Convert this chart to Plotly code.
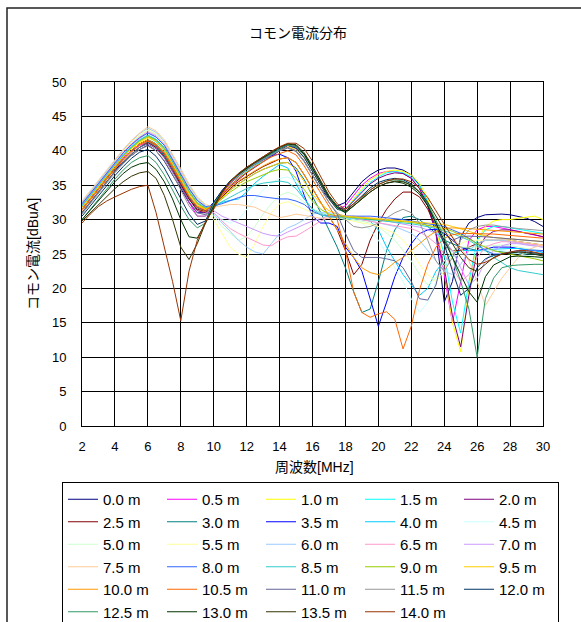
import plotly.graph_objects as go

FREQ = [2.0, 2.5, 3.0, 3.5, 4.0, 4.5, 5.0, 5.5,
        6.0, 6.5, 7.0, 7.5, 8.0, 8.5, 9.0, 9.5,
        10.0, 10.5, 11.0, 11.5, 12.0, 12.5, 13.0, 13.5,
        14.0, 14.5, 15.0, 15.5, 16.0, 16.5, 17.0, 17.5,
        18.0, 18.5, 19.0, 19.5, 20.0, 20.5, 21.0, 21.5,
        22.0, 22.5, 23.0, 23.5, 24.0, 24.5, 25.0, 25.5,
        26.0, 26.5, 27.0, 27.5, 28.0, 28.5, 29.0, 29.5, 30.0]

S_00 = [32.5, 33.8, 35.0, 36.2, 37.3, 38.3, 39.3, 40.2,
        40.8, 40.0, 38.5, 36.5, 34.5, 32.5, 31.0, 31.0,
        32.3, 34.0, 35.5, 36.5, 37.5, 38.3, 39.0, 39.5,
        40.0, 40.5, 40.0, 38.5, 36.5, 34.5, 33.0, 32.0,
        32.5, 34.0, 35.5, 36.5, 37.2, 37.5, 37.5, 37.2,
        36.5, 35.0, 32.5, 28.0, 18.0, 21.0, 27.5, 29.5,
        30.3, 30.7, 30.8, 30.8, 30.7, 30.5, 30.2, 29.7, 29.0]
S_05 = [32.0, 33.5, 35.0, 36.5, 37.8, 39.0, 40.0, 40.8,
        41.2, 40.5, 39.0, 37.0, 35.0, 32.5, 30.5, 30.5,
        32.0, 33.8, 35.3, 36.3, 37.3, 38.0, 38.8, 39.5,
        40.2, 40.7, 40.3, 39.0, 37.0, 35.0, 33.0, 31.5,
        32.0, 33.5, 35.0, 36.0, 36.7, 37.0, 37.0, 36.7,
        36.0, 34.5, 32.0, 28.0, 22.0, 15.0, 21.0, 27.0,
        28.5, 29.0, 29.0, 28.8, 28.5, 28.3, 28.0, 27.8, 27.5]
S_10 = [32.3, 33.8, 35.2, 36.7, 38.0, 39.2, 40.3, 41.2,
        41.8, 41.0, 39.5, 37.5, 35.3, 33.0, 31.5, 31.0,
        32.0, 33.6, 35.0, 36.0, 37.0, 37.8, 38.6, 39.4,
        40.0, 40.6, 40.2, 39.0, 37.0, 35.0, 33.0, 31.5,
        31.5, 33.0, 34.5, 35.8, 36.5, 37.0, 37.2, 37.0,
        36.5, 35.3, 33.0, 29.0, 23.0, 15.0, 10.8, 20.0,
        27.0, 29.0, 29.8, 30.0, 30.0, 30.2, 30.4, 30.5, 30.0]
S_15 = [32.0, 33.5, 35.0, 36.5, 38.0, 39.3, 40.5, 41.5,
        42.0, 41.3, 40.0, 38.0, 35.8, 33.5, 31.8, 31.3,
        32.0, 33.5, 35.0, 36.0, 37.0, 37.8, 38.6, 39.4,
        40.2, 41.0, 40.8, 39.5, 37.5, 35.3, 33.3, 31.8,
        31.5, 32.8, 34.2, 35.4, 36.2, 36.8, 37.0, 36.8,
        36.2, 35.0, 32.5, 29.0, 25.0, 18.0, 13.5, 21.0,
        27.0, 28.5, 29.0, 29.0, 28.8, 28.6, 28.4, 28.2, 28.0]
S_20 = [31.5, 33.0, 34.5, 36.0, 37.5, 38.8, 40.0, 41.0,
        41.5, 40.8, 39.5, 37.5, 35.3, 33.0, 31.3, 31.0,
        32.0, 33.5, 34.8, 35.8, 36.8, 37.6, 38.4, 39.2,
        40.0, 40.8, 40.6, 39.5, 37.5, 35.3, 33.2, 31.7,
        31.5, 32.7, 34.0, 35.2, 36.0, 36.5, 36.8, 36.7,
        36.0, 34.5, 32.0, 28.0, 23.0, 16.0, 11.5, 19.0,
        25.5, 27.5, 28.3, 28.5, 28.5, 28.3, 28.0, 27.8, 27.5]
S_25 = [31.0, 32.5, 34.0, 35.5, 37.0, 38.3, 39.5, 40.5,
        41.2, 40.5, 39.2, 37.2, 35.0, 33.0, 31.5, 31.2,
        32.0, 33.3, 34.5, 35.5, 36.3, 37.0, 37.7, 38.3,
        38.8, 39.0, 38.3, 36.5, 34.5, 32.5, 30.5, 28.5,
        25.5, 22.0, 23.5, 27.0, 29.5, 31.5, 33.0, 34.0,
        34.0, 33.3, 31.5, 29.0, 26.5, 25.5, 25.5, 26.0,
        26.5, 27.0, 27.0, 27.0, 27.0, 26.8, 26.6, 26.5, 26.3]
S_30 = [31.0, 32.5, 34.0, 35.5, 37.0, 38.3, 39.5, 40.5,
        41.3, 40.7, 39.3, 37.5, 35.3, 33.2, 31.7, 31.3,
        32.0, 33.2, 34.3, 35.2, 36.0, 36.7, 37.3, 37.8,
        38.2, 38.3, 37.5, 35.8, 33.5, 31.0, 28.5, 26.0,
        23.0, 19.5, 16.5, 17.0, 21.0, 25.5, 28.5, 30.3,
        30.5, 30.0, 29.0, 28.0, 27.0, 26.5, 26.0, 25.8,
        25.5, 25.5, 25.5, 25.3, 25.2, 25.0, 25.0, 25.0, 24.8]
S_35 = [31.5, 33.0, 34.5, 36.0, 37.5, 38.8, 40.0, 41.0,
        41.6, 41.0, 39.7, 37.8, 35.5, 33.3, 31.8, 31.3,
        32.5, 34.2, 35.6, 36.6, 37.5, 38.2, 38.8, 39.3,
        39.5, 39.0, 37.0, 33.5, 30.5, 29.5, 29.5, 29.0,
        26.0, 24.5, 22.5, 18.5, 14.5, 18.0, 21.7, 24.5,
        26.5, 28.0, 28.5, 28.6, 28.0, 27.0, 26.0, 25.5,
        25.5, 25.7, 26.0, 26.0, 26.0, 25.8, 25.7, 25.5, 25.3]
S_40 = [32.0, 33.5, 35.0, 36.5, 38.0, 39.3, 40.5, 41.5,
        42.2, 41.6, 40.3, 38.4, 36.3, 34.0, 32.3, 31.6,
        31.8, 32.5, 32.8, 33.0, 34.0, 35.3, 36.3, 37.2,
        38.0, 37.5, 35.3, 33.0, 31.5, 31.0, 30.5, 30.3,
        30.0, 30.0, 30.0, 29.8, 28.5, 26.0, 24.0, 22.0,
        20.5, 19.0, 20.0, 22.5, 24.0, 25.0, 25.5, 25.5,
        25.5, 25.5, 25.7, 25.8, 25.8, 25.8, 25.7, 25.5, 25.2]
S_45 = [32.5, 34.0, 35.5, 37.0, 38.5, 40.0, 41.2, 42.2,
        43.0, 42.3, 41.0, 39.0, 36.8, 34.5, 32.7, 31.8,
        31.0, 30.0, 29.5, 30.0, 31.5, 33.0, 34.3, 35.3,
        36.0, 36.2, 35.5, 34.0, 32.5, 31.5, 31.0, 30.5,
        30.3, 30.0, 29.5, 28.5, 27.0, 25.0, 23.0, 21.0,
        18.5, 16.5, 18.0, 21.0, 23.5, 24.5, 25.0, 25.0,
        25.3, 25.5, 25.5, 25.5, 25.3, 25.0, 24.8, 24.6, 24.3]
S_50 = [32.5, 34.0, 35.5, 37.0, 38.5, 40.0, 41.2, 42.2,
        43.0, 42.4, 41.2, 39.3, 37.0, 34.8, 33.0, 32.0,
        30.5, 29.0, 28.0, 27.0, 27.5, 29.0, 30.8, 32.3,
        33.5, 34.0, 33.5, 32.5, 31.5, 31.0, 30.8, 30.5,
        30.3, 30.0, 29.8, 29.5, 29.0, 28.0, 27.0, 25.5,
        24.0, 22.0, 20.5, 21.5, 24.0, 25.5, 26.0, 26.0,
        26.0, 26.2, 26.3, 26.3, 26.2, 26.0, 25.8, 25.6, 25.4]
S_55 = [32.5, 34.0, 35.5, 37.0, 38.5, 40.0, 41.2, 42.3,
        43.2, 42.6, 41.3, 39.3, 37.0, 34.8, 33.0, 32.0,
        30.0, 28.0, 26.0, 25.0, 24.5, 26.5, 29.0, 31.0,
        32.3, 32.6, 32.0, 31.5, 31.0, 30.7, 30.5, 30.3,
        30.0, 29.8, 29.5, 29.3, 29.0, 28.5, 28.0, 27.0,
        25.5, 23.5, 22.0, 21.0, 22.5, 25.0, 26.5, 27.0,
        27.0, 27.0, 27.0, 27.0, 27.0, 26.8, 26.6, 26.5, 26.3]
S_60 = [32.5, 34.0, 35.5, 37.1, 38.6, 40.1, 41.4, 42.5,
        43.3, 42.7, 41.4, 39.4, 37.2, 35.0, 33.2, 32.0,
        30.8, 29.5, 28.3, 27.0, 26.0, 25.3, 25.0, 26.5,
        28.0, 28.8, 29.3, 30.0, 30.8, 31.0, 31.0, 30.8,
        30.5, 30.3, 30.0, 29.8, 29.5, 29.3, 29.0, 28.5,
        28.0, 27.0, 25.5, 24.0, 22.5, 22.0, 23.5, 25.5,
        26.5, 27.0, 27.0, 27.0, 26.8, 26.6, 26.5, 26.3, 26.0]
S_65 = [32.3, 33.8, 35.3, 36.8, 38.3, 39.8, 41.0, 42.0,
        42.8, 42.2, 41.0, 39.0, 36.8, 34.6, 32.8, 31.8,
        31.0, 29.8, 28.7, 28.0, 27.4, 26.8, 26.3, 26.2,
        27.0, 27.5, 27.6, 28.3, 29.0, 29.8, 30.3, 30.5,
        30.4, 30.2, 30.0, 29.8, 29.6, 29.4, 29.2, 29.0,
        28.7, 28.2, 27.5, 26.5, 25.0, 23.0, 21.0, 22.0,
        24.5, 26.0, 26.5, 26.8, 26.8, 26.7, 26.5, 26.3, 26.2]
S_70 = [32.2, 33.7, 35.2, 36.7, 38.2, 39.6, 40.8, 41.8,
        42.6, 42.0, 40.8, 38.8, 36.6, 34.5, 32.8, 31.8,
        31.3, 30.5, 30.0, 29.5, 29.0, 28.5, 28.0, 27.7,
        27.6, 28.2, 28.8, 29.3, 29.8, 30.2, 30.5, 30.6,
        30.6, 30.5, 30.3, 30.2, 30.0, 29.8, 29.6, 29.4,
        29.2, 28.9, 28.5, 28.0, 27.0, 25.5, 23.0, 20.5,
        21.5, 24.0, 25.5, 26.2, 26.5, 26.5, 26.3, 26.2, 26.0]
S_75 = [32.7, 34.2, 35.7, 37.2, 38.7, 40.2, 41.5, 42.6,
        43.5, 42.9, 41.6, 39.6, 37.4, 35.2, 33.3, 32.2,
        31.8, 32.0, 32.2, 32.2, 32.0, 31.8, 31.2, 30.7,
        30.3, 30.5, 30.8, 30.6, 30.4, 30.2, 30.2, 30.3,
        30.5, 30.5, 30.4, 30.3, 30.2, 30.1, 30.0, 29.9,
        29.7, 29.5, 29.2, 28.8, 28.2, 27.5, 26.0, 24.0,
        21.0, 17.5, 19.5, 21.5, 23.0, 24.5, 25.5, 26.0, 26.3]
S_80 = [32.3, 33.8, 35.3, 36.8, 38.3, 39.7, 40.9, 41.9,
        42.6, 42.0, 40.8, 38.8, 36.6, 34.5, 32.8, 31.9,
        32.0, 32.3, 32.8, 33.2, 33.5, 33.5, 33.3, 33.1,
        33.0, 33.0, 32.7, 32.2, 31.2, 30.7, 30.5, 30.5,
        30.5, 30.6, 30.6, 30.5, 30.4, 30.3, 30.2, 30.0,
        29.8, 29.6, 29.4, 29.2, 29.0, 28.5, 28.0, 27.3,
        26.5, 25.5, 25.0, 25.0, 25.3, 25.5, 25.6, 25.6, 25.5]
S_85 = [32.0, 33.5, 35.0, 36.5, 38.0, 39.4, 40.6, 41.6,
        42.3, 41.7, 40.5, 38.5, 36.3, 34.2, 32.5, 31.7,
        32.0, 32.6, 33.3, 33.9, 34.5, 35.0, 35.3, 35.5,
        35.6, 35.4, 34.5, 33.0, 31.5, 30.7, 30.4, 30.3,
        30.3, 30.2, 30.1, 30.0, 29.9, 29.8, 29.7, 29.6,
        29.4, 29.2, 29.0, 28.7, 28.4, 28.0, 27.5, 27.0,
        26.3, 25.5, 24.5, 23.7, 23.0, 22.6, 22.4, 22.2, 22.0]
S_90 = [31.8, 33.3, 34.8, 36.3, 37.8, 39.2, 40.4, 41.4,
        42.1, 41.5, 40.3, 38.3, 36.1, 34.0, 32.4, 31.6,
        32.0, 33.0, 34.0, 34.8, 35.5, 36.0, 36.5, 37.0,
        37.3, 37.2, 36.0, 34.3, 32.7, 31.5, 30.8, 30.5,
        30.4, 30.4, 30.3, 30.2, 30.1, 30.0, 29.9, 29.8,
        29.6, 29.4, 29.2, 29.0, 28.7, 28.3, 27.8, 27.2,
        26.5, 26.0, 25.5, 25.2, 25.0, 24.8, 24.6, 24.3, 24.0]
S_95 = [31.8, 33.3, 34.8, 36.3, 37.8, 39.1, 40.3, 41.3,
        42.0, 41.4, 40.1, 38.1, 35.9, 33.8, 32.2, 31.5,
        32.0, 33.2, 34.3, 35.2, 36.0, 36.7, 37.3, 37.8,
        38.2, 38.3, 37.3, 35.5, 33.7, 32.3, 31.3, 30.8,
        30.5, 30.4, 30.3, 30.2, 30.1, 30.0, 29.9, 29.9,
        29.8, 29.7, 29.6, 29.5, 29.3, 29.0, 28.7, 28.3,
        27.9, 27.6, 27.4, 27.3, 27.2, 27.1, 27.0, 26.9, 26.8]
S_100 = [31.5, 33.0, 34.5, 36.0, 37.5, 38.8, 40.0, 41.0,
         41.6, 41.0, 39.8, 37.8, 35.6, 33.5, 32.0, 31.4,
         32.2, 33.5, 34.7, 35.6, 36.4, 37.1, 37.8, 38.4,
         38.8, 39.0, 38.3, 36.5, 34.5, 32.5, 30.5, 28.5,
         26.5, 24.5, 23.0, 22.3, 22.0, 22.8, 23.8, 24.5,
         25.5, 26.5, 27.5, 28.3, 28.7, 28.8, 28.8, 28.7,
         28.6, 28.5, 28.5, 28.4, 28.3, 28.2, 28.1, 28.0, 27.9]
S_105 = [31.3, 32.8, 34.3, 35.8, 37.3, 38.6, 39.8, 40.8,
         41.4, 40.8, 39.6, 37.6, 35.4, 33.3, 31.8, 31.2,
         32.3, 33.7, 35.0, 36.0, 36.9, 37.7, 38.4, 39.1,
         39.6, 40.0, 39.4, 37.8, 35.8, 33.8, 31.8, 30.0,
         25.5, 19.5, 16.5, 15.8, 16.3, 16.6, 15.5, 11.2,
         14.5, 19.8, 23.5, 26.0, 27.3, 27.8, 28.0, 28.0,
         28.0, 28.0, 27.9, 27.8, 27.7, 27.6, 27.5, 27.4, 27.3]
S_110 = [31.0, 32.5, 34.0, 35.5, 37.0, 38.3, 39.5, 40.5,
         41.0, 40.3, 39.0, 37.0, 34.8, 32.6, 31.0, 30.7,
         32.4, 34.0, 35.3, 36.3, 37.2, 38.0, 38.7, 39.4,
         40.0, 40.4, 39.9, 38.4, 36.4, 34.4, 32.5, 30.8,
         28.0, 25.5, 24.5, 24.5, 24.5, 24.3, 24.0, 23.0,
         21.0, 18.5, 18.3, 20.5, 25.5, 27.0, 27.5, 27.6,
         27.6, 27.5, 27.4, 27.3, 27.2, 27.1, 27.0, 26.9, 26.8]
S_115 = [30.8, 32.3, 33.8, 35.3, 36.8, 38.1, 39.3, 40.2,
         40.7, 40.0, 38.6, 36.6, 34.3, 32.0, 30.5, 30.5,
         32.4, 34.0, 35.4, 36.4, 37.3, 38.1, 38.8, 39.5,
         40.1, 40.5, 40.0, 38.5, 36.5, 34.5, 32.5, 31.0,
         30.0, 29.0, 28.8, 29.0, 29.5, 30.3, 31.0, 31.5,
         31.0, 29.5, 27.0, 24.0, 22.5, 24.5, 27.0, 28.5,
         29.0, 29.2, 29.2, 29.0, 28.8, 28.7, 28.6, 28.5, 28.4]
S_120 = [30.5, 32.0, 33.5, 35.0, 36.4, 37.7, 38.9, 39.8,
         40.2, 39.2, 37.5, 35.3, 33.0, 30.8, 29.3, 29.8,
         32.5, 34.2, 35.6, 36.6, 37.5, 38.3, 39.0, 39.7,
         40.3, 40.8, 40.4, 39.0, 37.0, 35.0, 33.0, 31.5,
         31.2, 32.3, 33.5, 34.6, 35.4, 35.8, 36.0, 35.8,
         35.2, 34.0, 32.0, 29.5, 26.5, 22.5, 19.0, 20.0,
         23.0, 24.3, 24.8, 25.0, 25.2, 25.3, 25.3, 25.2, 25.0]
S_125 = [30.0, 31.5, 33.0, 34.5, 35.9, 37.2, 38.3, 39.0,
         39.3, 38.3, 36.5, 34.3, 32.0, 30.0, 28.8, 29.5,
         32.3, 34.0, 35.5, 36.5, 37.4, 38.2, 38.9, 39.6,
         40.2, 40.8, 40.6, 39.3, 37.3, 35.3, 33.3, 31.6,
         31.0, 32.0, 33.2, 34.3, 35.1, 35.6, 35.8, 35.6,
         35.0, 34.0, 32.3, 30.0, 27.5, 24.5, 21.0, 17.0,
         10.0, 18.5, 21.5, 23.0, 23.3, 23.4, 23.5, 23.5, 23.5]
S_130 = [30.0, 31.4, 32.8, 34.2, 35.5, 36.7, 37.6, 38.1,
         38.3, 37.3, 35.5, 33.0, 30.0, 27.5, 27.3, 29.5,
         32.0, 34.0, 35.5, 36.6, 37.5, 38.3, 39.0, 39.8,
         40.5, 41.0, 40.8, 39.5, 37.5, 35.3, 33.3, 31.8,
         31.0, 32.0, 33.0, 34.0, 34.8, 35.3, 35.5, 35.3,
         34.7, 33.7, 32.0, 29.5, 27.0, 24.5, 22.0, 19.5,
         18.0, 21.7, 23.4, 24.0, 24.6, 24.7, 24.7, 24.6, 24.5]
S_135 = [29.8, 31.0, 32.2, 33.4, 34.5, 35.5, 36.3, 36.8,
         37.0, 36.0, 33.5, 30.0, 26.0, 24.2, 26.5, 29.5,
         31.8, 34.0, 35.6, 36.7, 37.6, 38.4, 39.1, 39.9,
         40.5, 41.0, 40.9, 39.7, 37.8, 35.6, 33.5, 32.0,
         31.2, 32.0, 33.0, 34.0, 34.8, 35.3, 35.6, 35.5,
         35.0, 34.0, 32.5, 30.5, 28.5, 26.5, 24.5, 23.0,
         22.5, 23.5, 24.5, 25.0, 25.2, 25.3, 25.2, 25.0, 24.7]
S_140 = [29.5, 30.8, 31.9, 32.7, 33.3, 33.9, 34.4, 34.8,
         35.0, 31.0, 26.0, 21.0, 15.3, 22.5, 27.0, 29.7,
         31.5, 33.8, 35.5, 36.7, 37.6, 38.4, 39.1, 39.9,
         40.6, 41.1, 41.1, 40.3, 38.5, 36.3, 34.0, 32.3,
         31.5, 32.3, 33.3, 34.3, 35.1, 35.6, 35.9, 35.9,
         35.5, 34.6, 33.2, 31.3, 29.3, 27.3, 25.5, 24.2,
         23.5, 23.8, 24.4, 25.0, 25.3, 25.5, 25.5, 25.3, 25.0]

NAMES = ["0.0 m", "0.5 m", "1.0 m", "1.5 m", "2.0 m", "2.5 m", "3.0 m", "3.5 m",
         "4.0 m", "4.5 m", "5.0 m", "5.5 m", "6.0 m", "6.5 m", "7.0 m", "7.5 m",
         "8.0 m", "8.5 m", "9.0 m", "9.5 m", "10.0 m", "10.5 m", "11.0 m", "11.5 m",
         "12.0 m", "12.5 m", "13.0 m", "13.5 m", "14.0 m"]
VALUES = [S_00, S_05, S_10, S_15, S_20, S_25, S_30, S_35, S_40, S_45, S_50, S_55,
          S_60, S_65, S_70, S_75, S_80, S_85, S_90, S_95, S_100, S_105, S_110,
          S_115, S_120, S_125, S_130, S_135, S_140]
COLORS = ["#000080", "#FF00FF", "#FFFF00", "#00FFFF", "#800080", "#800000",
          "#008080", "#0000FF", "#00CCFF", "#CCFFFF", "#CCFFCC", "#FFFF99",
          "#99CCFF", "#FF99CC", "#CC99FF", "#FFCC99", "#3366FF", "#33CCCC",
          "#99CC00", "#FFCC00", "#FF9900", "#FF6600", "#666699", "#969696",
          "#003366", "#339966", "#003300", "#333300", "#993300"]

TITLE = "コモン電流分布"
XTITLE = "周波数[MHz]"
YTITLE = "コモン電流[dBuA]"

W, H = 581, 622
L, R, T, B = 82, 38, 82, 196
PW = W - L - R
PH = H - T - B


def px_x(px):
    return (px - L) / PW


def px_y(py):
    return (H - B - py) / PH


FONT = "Liberation Sans, Arial, Noto Sans CJK JP, sans-serif"

fig = go.Figure()
for name, vals, col in zip(NAMES, VALUES, COLORS):
    assert len(vals) == len(FREQ), name
    fig.add_trace(go.Scatter(x=FREQ, y=vals, name=name, mode="lines",
                             line=dict(color=col, width=1)))

axis_common = dict(showgrid=True, gridcolor="black", gridwidth=1,
                   showline=True, linecolor="black", linewidth=1, mirror=True,
                   zeroline=False, ticks="", tickfont=dict(size=13, color="black"))

fig.update_layout(
    width=W, height=H,
    margin=dict(l=L, r=R, t=T, b=B, autoexpand=False),
    paper_bgcolor="white", plot_bgcolor="white",
    font=dict(family=FONT, color="black"),
    showlegend=True,
    xaxis=dict(range=[2, 30], tick0=2, dtick=2, ticklabelstandoff=8, **axis_common),
    yaxis=dict(range=[0, 50], tick0=0, dtick=5, ticklabelstandoff=12, **axis_common),
    legend=dict(orientation="h", x=px_x(62), y=px_y(482), xanchor="left", yanchor="top",
                entrywidth=54, entrywidthmode="pixels", itemwidth=30,
                font=dict(size=15, color="black", family=FONT),
                bgcolor="white", bordercolor="black", borderwidth=1,
                tracegroupgap=0),
    annotations=[
        dict(text=TITLE, xref="paper", yref="paper", x=px_x(298), y=px_y(33),
             showarrow=False, font=dict(size=14), xanchor="center", yanchor="middle"),
        dict(text=XTITLE, xref="paper", yref="paper", x=px_x(314), y=px_y(467),
             showarrow=False, font=dict(size=14), xanchor="center", yanchor="middle"),
        dict(text=YTITLE, xref="paper", yref="paper", x=px_x(33), y=px_y(254),
             showarrow=False, font=dict(size=14), textangle=-90,
             xanchor="center", yanchor="middle"),
    ],
    shapes=[
        dict(type="rect", xref="paper", yref="paper", x0=px_x(7), x1=px_x(600),
             y0=px_y(660), y1=px_y(8), line=dict(color="#222222", width=1.5),
             layer="below"),
    ],
)

fig.write_html("out.html")
